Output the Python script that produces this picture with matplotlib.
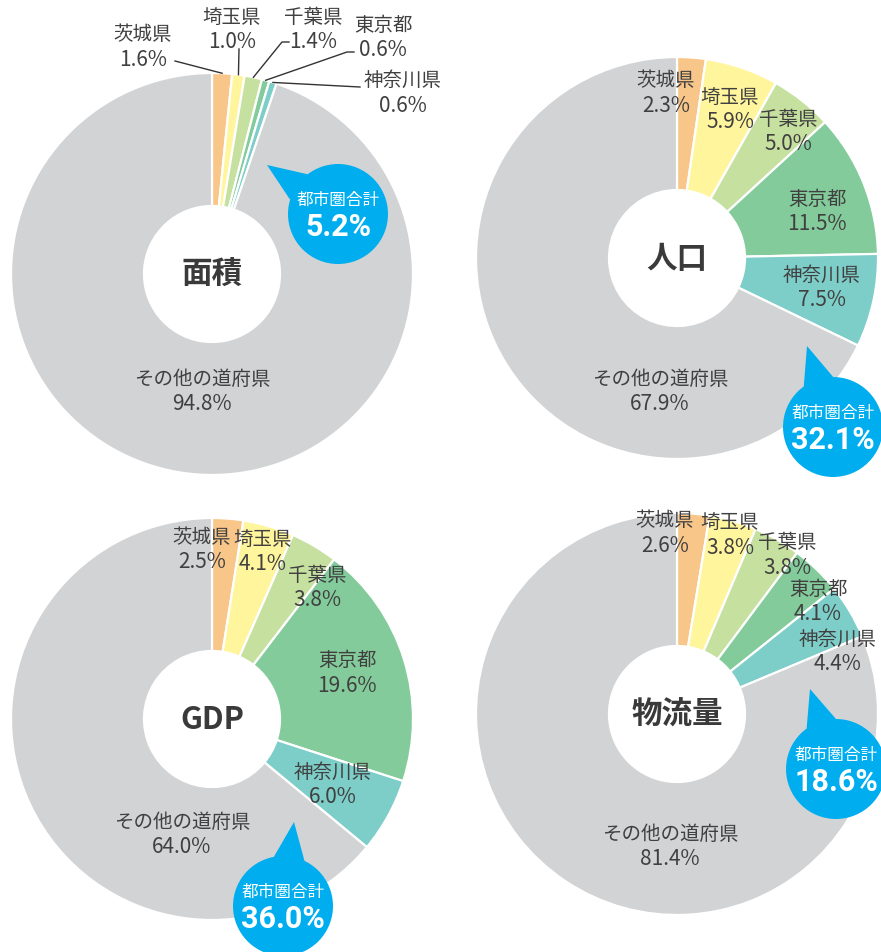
import numpy as np
import matplotlib
matplotlib.use('Agg')
import matplotlib.pyplot as plt
from matplotlib.patches import Circle, Polygon

plt.rcParams['font.family'] = ['Noto Sans CJK JP', 'DejaVu Sans']

W, H = 881, 953

# data
prefectures = ['茨城県', '埼玉県', '千葉県', '東京都', '神奈川県', 'その他の道府県']
titles = ['面積', '人口', 'GDP', '物流量']
area = [1.6, 1.0, 1.4, 0.6, 0.6, 94.8]
population = [2.3, 5.9, 5.0, 11.5, 7.5, 67.9]
gdp = [2.5, 4.1, 3.8, 19.6, 6.0, 64.0]
freight = [2.6, 3.8, 3.8, 4.1, 4.4, 81.4]
metro_total = [5.2, 32.1, 36.0, 18.6]
datasets = [area, population, gdp, freight]

colors = ['#F9C68A', '#FFF59D', '#C6E0A0', '#83CB9B', '#7DCDC8', '#D2D3D5']
BLUE = '#00AEEF'
TEXT = '#404040'

# layout in pixels (y measured from the top)
centers = [(212, 275), (677, 259), (212, 720), (677, 715)]
R_OUT, R_IN = 201, 68
label_offsets = [
    [(-69, -228), (20, -245), (101, -245), (171, -237), (191, -182), (-10, 117)],
    [(-11, -166), (53, -149), (111, -127), (140, -47), (145, 29), (-17, 133)],
    [(-10, -170), (51, -168), (105, -132), (135, -47), (121, 65), (-30, 115)],
    [(-12, -182), (53, -180), (110, -160), (141, -113), (161, -63), (-7, 132)],
]
# leader lines (chart 1 only): start points, end is on the wedge
leader_starts = [[(175, 62)], [(239, 50)], [(289, 43), (282, 43)],
                 [(354, 53), (347, 53)], [(360, 88)]]
bubble_centers = [(338, 215), (833, 428), (283, 907), (836, 770)]
bubble_tips = [(267, 166), (807, 347), (294, 823), (810, 690)]
BUBBLE_R = 50


def fy(y):
    return H - y


fig = plt.figure(figsize=(W / 100, H / 100), dpi=100)
ax = fig.add_axes([0, 0, 1, 1])

for i, vals in enumerate(datasets):
    cx, cy = centers[i]
    ax.pie(vals, colors=colors, startangle=90, counterclock=False,
           radius=R_OUT, center=(cx, fy(cy)),
           wedgeprops=dict(width=R_OUT - R_IN, edgecolor='white', linewidth=1.6))

    ax.text(cx, fy(cy), titles[i], ha='center', va='center', fontsize=22,
            fontweight='bold', color='#3a3a3a', zorder=5)

    # slice labels
    for j, (name, v) in enumerate(zip(prefectures, vals)):
        dx, dy = label_offsets[i][j]
        lx, ly = cx + dx, cy + dy
        ax.text(lx, fy(ly - 12.5), name, ha='center', va='center',
                fontsize=14, color=TEXT, zorder=5)
        ax.text(lx, fy(ly + 12.5), f'{v:.1f}%', ha='center', va='center',
                fontsize=15, color=TEXT, zorder=5)

    # leader lines for the area chart
    if i == 0:
        cum = np.cumsum([0] + vals)
        total = cum[-1]
        for j, pts in enumerate(leader_starts):
            mid = (cum[j] + vals[j] / 2) / total * 2 * np.pi
            ex = cx + R_OUT * np.sin(mid)
            ey = cy - R_OUT * np.cos(mid)
            xs = [p[0] for p in pts] + [ex]
            ys = [fy(p[1]) for p in pts] + [fy(ey)]
            ax.plot(xs, ys, color='#333333', linewidth=1.0, zorder=4)

    # speech bubble with metro total
    bx, by = bubble_centers[i]
    tx, ty = bubble_tips[i]
    phi = np.arctan2(ty - by, tx - bx)
    d = np.radians(18)
    base = [(bx + BUBBLE_R * np.cos(phi + s * d), by + BUBBLE_R * np.sin(phi + s * d))
            for s in (-1, 1)]
    tail = [(tx, fy(ty))] + [(px, fy(py)) for px, py in base]
    ax.add_patch(Polygon(tail, closed=True, facecolor=BLUE, edgecolor='none', zorder=6))
    ax.add_patch(Circle((bx, fy(by)), BUBBLE_R, facecolor=BLUE, edgecolor='none', zorder=6))
    ax.text(bx, fy(by - 15), '都市圏合計', ha='center', va='center', fontsize=12,
            color='white', zorder=7)
    ax.text(bx, fy(by + 12), f'{metro_total[i]:.1f}%', ha='center', va='center',
            fontsize=22, fontweight='bold', color='white', zorder=7,
            family=['Roboto', 'DejaVu Sans'])

ax.set_xlim(0, W)
ax.set_ylim(0, H)
ax.set_aspect('equal')
ax.axis('off')

fig.savefig('out.png', dpi=100, facecolor='white')
